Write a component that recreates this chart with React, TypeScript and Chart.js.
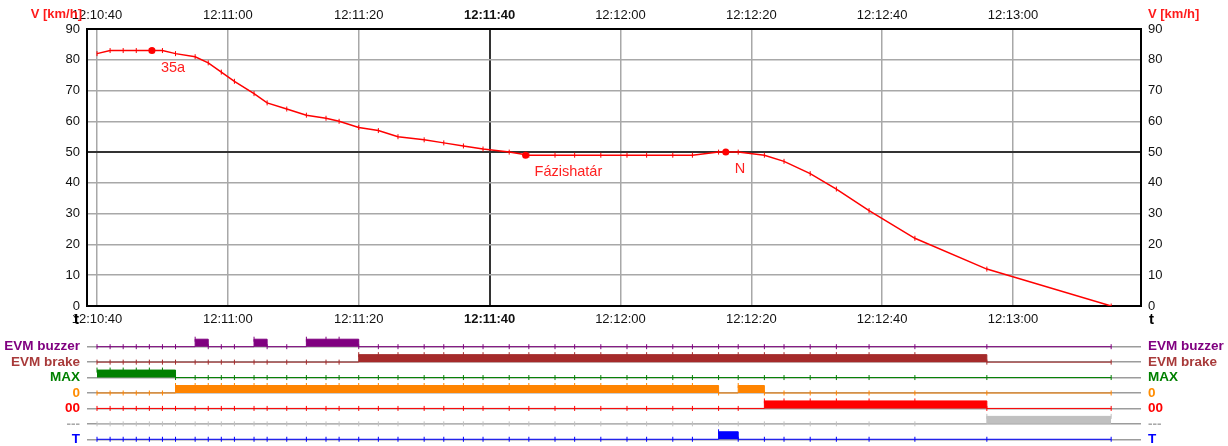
import React, { useEffect, useRef } from 'react';
import { Chart, registerables } from 'chart.js';

Chart.register(...registerables);

const FONT = "'Liberation Sans', Arial, Helvetica, sans-serif";

// seconds after 12:10:40
const sampleSeconds = [0, 2, 4, 6, 8, 10, 12, 15, 17, 19, 21, 24, 26, 29, 32, 35, 37, 40, 43, 46, 50, 53, 56, 59, 63, 66, 70, 73, 77, 81, 84, 88, 91, 95, 98, 102, 105, 109, 113, 118, 125, 136, 155];
const speedKmh = [82, 83, 83, 83, 83, 83, 82, 81, 79, 76, 73, 69, 66, 64, 62, 61, 60, 58, 57, 55, 54, 53, 52, 51, 50, 49, 49, 49, 49, 49, 49, 49, 49, 50, 50, 49, 47, 43, 38, 31, 22, 12, 0];

const eventSeconds = [8.4, 65.5, 96.1];
const eventSpeeds = [83, 49, 50];
const eventLabels = ['35a', 'Fázishatár', 'N'];

const timeTicks = [0, 20, 40, 60, 80, 100, 120, 140];
const boldTimeTick = 60;
const darkSpeedLine = 50;

const signalNames = ['EVM buzzer', 'EVM brake', 'MAX', '0', '00', '---', 'T'];
const signalColors = ['#800080', '#a52a2a', '#008000', '#ff8400', '#ff0000', '#c0c0c0', '#0000ff'];
const signalLabelColors = ['#800080', '#a83a3a', '#008000', '#ff8c00', '#ff0000', '#a8a8a8', '#0000ff'];

const evmBuzzer = [0, 0, 0, 0, 0, 0, 0, 1, 0, 0, 0, 1, 0, 0, 1, 1, 1, 0, 0, 0, 0, 0, 0, 0, 0, 0, 0, 0, 0, 0, 0, 0, 0, 0, 0, 0, 0, 0, 0, 0, 0, 0, 0];
const evmBrake = [0, 0, 0, 0, 0, 0, 0, 0, 0, 0, 0, 0, 0, 0, 0, 0, 0, 1, 1, 1, 1, 1, 1, 1, 1, 1, 1, 1, 1, 1, 1, 1, 1, 1, 1, 1, 1, 1, 1, 1, 1, 0, 0];
const maxSignal = [1, 1, 1, 1, 1, 1, 0, 0, 0, 0, 0, 0, 0, 0, 0, 0, 0, 0, 0, 0, 0, 0, 0, 0, 0, 0, 0, 0, 0, 0, 0, 0, 0, 0, 0, 0, 0, 0, 0, 0, 0, 0, 0];
const zeroSignal = [0, 0, 0, 0, 0, 0, 1, 1, 1, 1, 1, 1, 1, 1, 1, 1, 1, 1, 1, 1, 1, 1, 1, 1, 1, 1, 1, 1, 1, 1, 1, 1, 1, 0, 1, 0, 0, 0, 0, 0, 0, 0, 0];
const doubleZeroSignal = [0, 0, 0, 0, 0, 0, 0, 0, 0, 0, 0, 0, 0, 0, 0, 0, 0, 0, 0, 0, 0, 0, 0, 0, 0, 0, 0, 0, 0, 0, 0, 0, 0, 0, 0, 1, 1, 1, 1, 1, 1, 0, 0];
const dashSignal = [0, 0, 0, 0, 0, 0, 0, 0, 0, 0, 0, 0, 0, 0, 0, 0, 0, 0, 0, 0, 0, 0, 0, 0, 0, 0, 0, 0, 0, 0, 0, 0, 0, 0, 0, 0, 0, 0, 0, 0, 0, 1, 1];
const tSignal = [0, 0, 0, 0, 0, 0, 0, 0, 0, 0, 0, 0, 0, 0, 0, 0, 0, 0, 0, 0, 0, 0, 0, 0, 0, 0, 0, 0, 0, 0, 0, 0, 0, 1, 0, 0, 0, 0, 0, 0, 0, 0, 0];

const signals = [evmBuzzer, evmBrake, maxSignal, zeroSignal, doubleZeroSignal, dashSignal, tSignal];

const X_MIN = -1.53;
const X_MAX = 159.56;
const START = 12 * 3600 + 10 * 60 + 40;
const BLOCK = 0.485;

function clock(sec: number): string {
  const t = Math.round(START + sec);
  const h = Math.floor(t / 3600);
  const m = Math.floor((t % 3600) / 60);
  const s = t % 60;
  return `${h}:${String(m).padStart(2, '0')}:${String(s).padStart(2, '0')}`;
}

const fixWidth = (w: number) => (s: any) => {
  s.width = w;
  s.paddingTop = 0;
  s.paddingBottom = 0;
};
const fixHeight = (h: number) => (s: any) => {
  s.height = h;
  s.paddingLeft = 0;
  s.paddingRight = 0;
};
const setTimeTicks = (s: any) => {
  s.ticks = timeTicks.map((v) => ({ value: v }));
};

const timeTickFont = (ctx: any) => ({
  family: FONT,
  size: 13,
  weight: ctx.tick && ctx.tick.value === boldTimeTick ? 'bold' : 'normal',
});

const textPlugin = {
  id: 'texts',
  afterDraw(chart: any) {
    const ctx = chart.ctx;
    const { left, right } = chart.chartArea;
    ctx.save();
    ctx.textBaseline = 'middle';
    ctx.font = `bold 13px ${FONT}`;
    ctx.fillStyle = '#ff1a1a';
    ctx.textAlign = 'right';
    ctx.fillText('V [km/h]', left - 5, 14);
    ctx.textAlign = 'left';
    ctx.fillText('V [km/h]', right + 7, 14);

    ctx.fillStyle = '#000';
    ctx.font = `bold 15px ${FONT}`;
    ctx.textAlign = 'left';
    ctx.fillText('t', right + 8, 320);
    ctx.textAlign = 'right';
    ctx.fillText('t', left - 8, 320);

    const meta = chart.getDatasetMeta(1);
    ctx.font = `14.5px ${FONT}`;
    ctx.fillStyle = '#ff2020';
    ctx.textAlign = 'left';
    meta.data.forEach((el: any, i: number) => {
      ctx.fillText(eventLabels[i], el.x + 9, el.y + 17);
    });
    ctx.restore();
  },
};

export default function App() {
  const topRef = useRef<HTMLCanvasElement>(null);
  const botRef = useRef<HTMLCanvasElement>(null);

  useEffect(() => {
    document.body.style.margin = '0';
    Chart.defaults.font.family = FONT;

    const speedData = sampleSeconds.map((x, i) => ({ x, y: speedKmh[i] }));
    const eventData = eventSeconds.map((x, i) => ({ x, y: eventSpeeds[i] }));

    const yTickBase = { stepSize: 10, color: '#111', font: { family: FONT, size: 13 }, padding: 7 };

    const a = new Chart(topRef.current as HTMLCanvasElement, {
      type: 'line',
      data: {
        datasets: [
          {
            data: speedData,
            borderColor: '#ff0000',
            borderWidth: 1.5,
            tension: 0,
            fill: false,
            pointStyle: 'line',
            pointRotation: 90,
            pointRadius: 2.5,
            pointBorderColor: '#ff0000',
            pointBorderWidth: 1,
            xAxisID: 'x',
            yAxisID: 'y',
          } as any,
          {
            data: eventData,
            showLine: false,
            pointStyle: 'circle',
            pointRadius: 3.5,
            pointBackgroundColor: '#ff0000',
            pointBorderColor: '#ff0000',
            pointBorderWidth: 0,
            xAxisID: 'x',
            yAxisID: 'y',
          } as any,
        ],
      },
      options: {
        responsive: false,
        animation: false,
        events: [],
        layout: { padding: 0, autoPadding: false },
        plugins: { legend: { display: false }, tooltip: { enabled: false } },
        scales: {
          x: {
            type: 'linear',
            position: 'bottom',
            min: X_MIN,
            max: X_MAX,
            afterBuildTicks: setTimeTicks,
            afterFit: fixHeight(28),
            grid: {
              drawTicks: false,
              color: (c: any) => (c.tick && c.tick.value === boldTimeTick ? '#333333' : '#a8a8a8'),
              lineWidth: (c: any) => (c.tick && c.tick.value === boldTimeTick ? 2 : 1.5),
            },
            border: { display: true, color: '#000', width: 2 },
            ticks: {
              autoSkip: false,
              maxRotation: 0,
              padding: 6,
              color: '#111',
              font: timeTickFont,
              callback: (v: any) => clock(Number(v)),
            },
          },
          x2: {
            type: 'linear',
            position: 'top',
            min: X_MIN,
            max: X_MAX,
            afterBuildTicks: setTimeTicks,
            afterFit: fixHeight(29),
            grid: { display: false, drawTicks: false },
            border: { display: true, color: '#000', width: 2 },
            ticks: {
              autoSkip: false,
              maxRotation: 0,
              padding: 6,
              color: '#111',
              font: timeTickFont,
              callback: (v: any) => clock(Number(v)),
            },
          },
          y: {
            type: 'linear',
            position: 'left',
            min: 0,
            max: 90,
            afterFit: fixWidth(87),
            grid: {
              drawTicks: false,
              color: (c: any) => (c.tick && c.tick.value === darkSpeedLine ? '#333333' : '#a8a8a8'),
              lineWidth: (c: any) => (c.tick && c.tick.value === darkSpeedLine ? 2 : 1.5),
            },
            border: { display: true, color: '#000', width: 2 },
            ticks: yTickBase,
          },
          y2: {
            type: 'linear',
            position: 'right',
            min: 0,
            max: 90,
            afterFit: fixWidth(87),
            grid: { display: false, drawTicks: false },
            border: { display: true, color: '#000', width: 2 },
            ticks: yTickBase,
          },
        },
      } as any,
      plugins: [textPlugin],
    });

    const rowBase = (k: number) => 7 - k;
    const signalDatasets = signals.map((arr, k) => ({
      data: sampleSeconds.map((x, i) => ({ x, y: rowBase(k) + arr[i] * BLOCK })),
      stepped: true,
      borderColor: signalColors[k],
      backgroundColor: signalColors[k],
      borderWidth: 1,
      fill: { value: rowBase(k) },
      pointStyle: 'line',
      pointRotation: 90,
      pointRadius: 2.5,
      pointBorderColor: signalColors[k],
      pointBorderWidth: 1,
    }));

    const rowTicks = (s: any) => {
      s.ticks = signalNames.map((_, k) => ({ value: rowBase(k) }));
    };
    const rowTickOpts = {
      autoSkip: false,
      padding: 7,
      font: { family: FONT, size: 13.5, weight: 'bold' },
      color: (c: any) => signalLabelColors[7 - Math.round(c.tick ? c.tick.value : 7)],
      callback: (v: any) => signalNames[7 - Math.round(Number(v))],
    };

    const b = new Chart(botRef.current as HTMLCanvasElement, {
      type: 'line',
      data: { datasets: signalDatasets as any },
      options: {
        responsive: false,
        animation: false,
        events: [],
        layout: { padding: 0, autoPadding: false },
        plugins: { legend: { display: false }, tooltip: { enabled: false } },
        scales: {
          x: { type: 'linear', display: false, min: X_MIN, max: X_MAX },
          y: {
            type: 'linear',
            position: 'left',
            min: 0.564,
            max: 7.823,
            afterBuildTicks: rowTicks,
            afterFit: fixWidth(87),
            grid: { drawTicks: false, color: '#9c9c9c', lineWidth: 1.5 },
            border: { display: false },
            ticks: rowTickOpts,
          },
          y2: {
            type: 'linear',
            position: 'right',
            min: 0.564,
            max: 7.823,
            afterBuildTicks: rowTicks,
            afterFit: fixWidth(87),
            grid: { display: false, drawTicks: false },
            border: { display: false },
            ticks: rowTickOpts,
          },
        },
      } as any,
    });

    return () => {
      a.destroy();
      b.destroy();
    };
  }, []);

  return (
    <div style={{ position: 'absolute', left: 0, top: 0, width: 1228, height: 446, background: '#fff' }}>
      <canvas ref={topRef} width={1228} height={334} style={{ display: 'block' }} />
      <canvas ref={botRef} width={1228} height={112} style={{ display: 'block' }} />
    </div>
  );
}
